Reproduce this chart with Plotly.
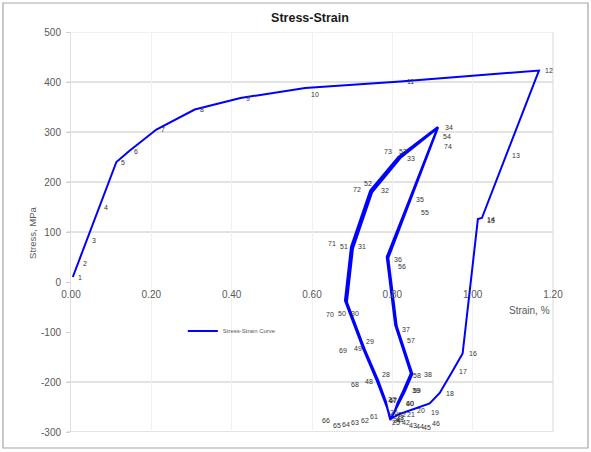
import plotly.graph_objects as go

# ---------------- data ----------------
strain = [
    0.0045, 0.0177, 0.0394, 0.0705, 0.113, 0.145, 0.2126, 0.308, 0.422, 0.583,
    0.820, 1.165, 1.084, 1.023, 1.013, 0.975, 0.950, 0.918, 0.893, 0.855,
    0.828, 0.815, 0.806, 0.800, 0.796, 0.790, 0.780, 0.760, 0.728, 0.682,
    0.697, 0.745, 0.815, 0.913, 0.840, 0.786, 0.807, 0.846, 0.827, 0.813,
    0.806, 0.802, 0.799, 0.797, 0.795, 0.792, 0.782, 0.763, 0.731, 0.685,
    0.700, 0.748, 0.818, 0.914, 0.834, 0.790, 0.811, 0.850, 0.831, 0.816,
    0.807, 0.803, 0.800, 0.797, 0.795, 0.792, 0.784, 0.765, 0.733, 0.687,
    0.702, 0.750, 0.820, 0.915,
]
stress = [
    10, 38, 84, 150, 240, 262, 305, 345, 368, 388,
    401, 423, 253, 128, 126, -143, -178, -222, -243, -253,
    -261, -265, -269, -272, -274, -258, -237, -195, -135, -37,
    70, 183, 250, 310, 160, 50, -86, -183, -218, -242,
    -258, -265, -270, -273, -275, -266, -238, -196, -137, -39,
    68, 181, 249, 309, 141, 48, -88, -184, -219, -243,
    -259, -266, -271, -274, -276, -267, -239, -197, -138, -40,
    67, 180, 248, 309,
]
point_labels = [str(i + 1) for i in range(len(strain))]

y_ticks = [500, 400, 300, 200, 100, 0, -100, -200, -300]
x_ticks = [0.0, 0.2, 0.4, 0.6, 0.8, 1.0, 1.2]
grid_dark = [400, 300, 200, 100, -200, -300]
grid_light = [500]

# label offsets in pixels (dx right, dy up) for labels that were hand-placed
label_shift = {
    19: (5, -9), 20: (7, -2), 21: (7, -2), 22: (4, 0), 23: (5, -1), 24: (5, -2),
    25: (5, -3), 26: (6, -1), 27: (8, 1),
    28: (10, 5), 48: (-8, -1), 68: (-23, -4),
    29: (7, 8), 49: (-7, 2), 69: (-22, 1),
    30: (10, -13), 50: (-4, -12), 70: (-17, -12),
    31: (11, 1), 51: (-8, 2), 71: (-21, 5),
    32: (15, 0), 52: (-3, 8), 72: (-15, 3),
    33: (13, -1), 53: (3, 6), 73: (-12, 7),
    34: (11, 0), 54: (9, -9), 74: (9, -19),
    35: (12, 3), 55: (19, -1),
    36: (11, -2), 56: (14, -8),
    37: (11, -4), 57: (14, -14),
    38: (17, -1), 58: (5, -1),
    39: (13, 1), 59: (12, 1),
    40: (12, 0), 60: (11, 0),
    47: (8, 1), 67: (7, 1),
    41: (5, -8), 42: (13, -8), 43: (21, -8), 44: (29, -8), 45: (37, -8), 46: (47, -8),
    61: (-21, -5), 62: (-29, -5), 63: (-37, -5), 64: (-45, -5), 65: (-53, -5), 66: (-63, -5),
    10: (10, -6), 14: (9, -1), 15: (13, -1),
}

FONT = "Liberation Sans, Arial, sans-serif"

fig = go.Figure()
fig.add_trace(go.Scatter(
    x=strain, y=stress, mode="lines", name="Stress-Strain Curve",
    line=dict(color="#0000ff", width=2),
    showlegend=True,
))

annotations = []
for i, (xv, yv, t) in enumerate(zip(strain, stress, point_labels)):
    n = i + 1
    default_dx = 7 if len(t) == 1 else 10
    dx, dy = label_shift.get(n, (default_dx, 0))
    annotations.append(dict(
        x=xv, y=yv, xref="x", yref="y", text=t, showarrow=False,
        xanchor="center", yanchor="middle", xshift=dx, yshift=dy,
        font=dict(family=FONT, size=7, color="#333333"),
    ))

# axis titles
annotations.append(dict(
    x=-0.079, y=0.4975, xref="paper", yref="paper", text="Stress, MPa", textangle=-90,
    showarrow=False, xanchor="center", yanchor="middle",
    font=dict(family=FONT, size=9.5, color="#595959"),
))
annotations.append(dict(
    x=0.952, y=0.305, xref="paper", yref="paper", text="Strain, %",
    showarrow=False, xanchor="center", yanchor="middle",
    font=dict(family=FONT, size=10, color="#595959"),
))

shapes = []
for g in grid_dark:
    shapes.append(dict(type="line", xref="paper", yref="y", x0=-0.008, x1=1, y0=g, y1=g,
                       line=dict(color="#c6c6c6", width=1), layer="below"))
for g in grid_light:
    shapes.append(dict(type="line", xref="paper", yref="y", x0=-0.008, x1=1, y0=g, y1=g,
                       line=dict(color="#e4e4e4", width=1), layer="below"))
# right plot border
shapes.append(dict(type="line", xref="paper", yref="paper", x0=1, x1=1, y0=0, y1=1,
                   line=dict(color="#d9d9d9", width=1), layer="below"))
# outer chart frame
shapes.append(dict(type="rect", xref="paper", yref="paper",
                   x0=-0.1411, x1=1.0726, y0=-0.04, y1=1.0725,
                   line=dict(color="#a6a6a6", width=1.2), layer="below"))

fig.update_layout(
    width=591, height=452,
    margin=dict(l=71, r=38, t=32, b=20, pad=0),
    paper_bgcolor="white", plot_bgcolor="white",
    title=dict(text="<b>Stress-Strain</b>", x=0.5245, xanchor="center", y=0.96, yanchor="middle",
               font=dict(family=FONT, size=12.5, color="#1a1a1a")),
    xaxis=dict(range=[0, 1.2], tickvals=x_ticks, ticktext=[f"{v:.2f}" for v in x_ticks],
               showgrid=True, gridcolor="#f0f0f0", gridwidth=1, zeroline=False,
               showline=False, ticks="", anchor="free", position=0.375,
               ticklabelstandoff=5,
               tickfont=dict(family=FONT, size=10, color="#595959")),
    yaxis=dict(range=[-300, 500], tickvals=y_ticks, ticktext=[str(v) for v in y_ticks],
               showgrid=False, zeroline=False, showline=True, linecolor="#e0e0e0", linewidth=1,
               ticks="outside", ticklen=4, tickcolor="#d0d0d0", ticklabelstandoff=3,
               tickfont=dict(family=FONT, size=10, color="#595959")),
    legend=dict(x=0.232, y=0.2525, xanchor="left", yanchor="middle",
                bgcolor="rgba(0,0,0,0)", font=dict(family=FONT, size=6, color="#595959"),
                itemwidth=30),
    annotations=annotations,
    shapes=shapes,
)

fig.write_html(
    "out.html",
    config={"displayModeBar": False},
    post_script="document.body.style.margin='0';document.body.style.overflow='hidden';",
)
